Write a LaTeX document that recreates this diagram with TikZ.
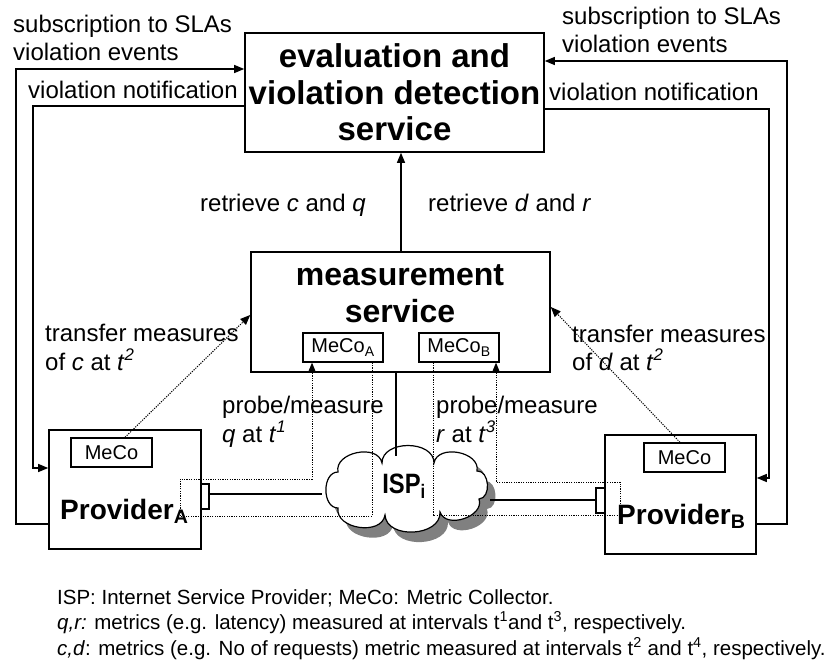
\documentclass[tikz,border=0pt]{standalone}
\usepackage{fontspec}
\setmainfont{Liberation Sans}
\usetikzlibrary{arrows.meta}
\definecolor{shadegray}{RGB}{128,128,128}

% outline of the internet service provider cloud, one puff per segment
\newcommand\ispoutline{%
  (338,508) to[puff] (338,472) to[puff] (382,463) to[puff] (434,463)
  to[puff] (477,471) to[puff] (479,499) to[puff] (440,512)
  to[puff] (385,515) to[puff] (338,508) -- cycle}

\begin{document}
\begin{tikzpicture}[x=1pt,y=-1pt,
  box/.style={draw,line width=1.6pt,inner sep=0pt},
  smallbox/.style={draw,line width=1.3pt,inner sep=0pt,minimum height=29pt,minimum width=80pt,
    font=\fontsize{20}{22}\selectfont},
  port/.style={draw,line width=1.3pt,inner sep=0pt,minimum width=8pt,minimum height=25pt},
  link/.style={line width=1.3pt},
  tip/.style={-{Triangle[length=10pt,width=8pt]}},
  probe/.style={line width=1pt,dash pattern=on 1.2pt off 1.2pt},
  lbl/.style={anchor=base west,inner sep=0pt,font=\fontsize{24}{28}\selectfont},
  bigbold/.style={font=\fontsize{33}{36.5}\selectfont\bfseries,align=center},
  puff/.style={bend left=90,looseness=1.15},
  note/.style={anchor=base west,inner sep=0pt,font=\fontsize{20.5}{25}\selectfont}
]
\useasboundingbox (0,0) rectangle (830,663);

% ---- main service boxes
\node[box,minimum width=299pt,minimum height=119pt,bigbold] (eval) at (394.5,92.5)
  {evaluation and\\violation detection\\service};
\node[box,minimum width=299pt,minimum height=120pt] (meas) at (400.5,312) {};
\node[bigbold,font=\fontsize{32}{37}\selectfont\bfseries,anchor=base,inner sep=0pt] (meastxt) at (400,285)
  {measurement};
\node[bigbold,font=\fontsize{32}{37}\selectfont\bfseries,anchor=base,inner sep=0pt] (meastxt2) at (400,322)
  {service};
\node[smallbox] (mecoA) at (343,347.5) {MeCo\textsubscript{A}};
\node[smallbox] (mecoB) at (459,347.5) {MeCo\textsubscript{B}};

% ---- providers
\node[box,minimum width=152pt,minimum height=119pt] (provA) at (125,489.5) {};
\node[box,minimum width=151pt,minimum height=119pt] (provB) at (680.5,494.5) {};
\node[smallbox,minimum width=81pt] (mecoPA) at (111.5,452.5) {MeCo};
\node[smallbox,minimum width=81pt] (mecoPB) at (684.5,457.5) {MeCo};
\node[anchor=base west,inner sep=0pt,font=\fontsize{28}{30}\selectfont\bfseries] (provAtxt) at (60,519)
  {Provider\textsubscript{A}};
\node[anchor=base west,inner sep=0pt,font=\fontsize{28}{30}\selectfont\bfseries] (provBtxt) at (617,524)
  {Provider\textsubscript{B}};
\node[port] (portA) at (205,496.5) {};
\node[port,minimum width=9pt] (portB) at (600.5,500.5) {};

% ---- internet service provider cloud with its shadow
\fill[shadegray,shift={(8,10)}] \ispoutline;
\filldraw[fill=white,draw=black,line width=1.2pt] \ispoutline;
\node[anchor=base,inner sep=0pt,font=\fontsize{28}{30}\selectfont\bfseries] (isptxt) at (404,493)
  {\scalebox{0.85}[1]{ISP\textsubscript{i}}};

% ---- connectors between services
\coordinate (ispTop) at (396,456);
\draw[link] (meas.south -| ispTop) -- (ispTop);
\draw[link,tip] (meas.north -| 401,0) -- (eval.south -| 401,0);
\coordinate (pA) at (322,494);
\coordinate (pB) at (490,500);
\draw[link] (portA.east |- pA) -- (pA);
\draw[link] (pB) -- (portB.west |- pB);

% ---- subscriptions and notifications
\coordinate (lo) at (16,69);
\coordinate (li) at (33,106);
\coordinate (ro) at (787,61);
\coordinate (ri) at (769,109);
\draw[link,tip] (provA.west |- 0,524) -| (lo) -- (eval.west |- lo);
\draw[link,tip] (eval.west |- li) -| (li |- 0,468) -- (provA.west |- 0,468);
\draw[link,tip] (provB.east |- 0,524) -| (ro) -- (eval.east |- ro);
\draw[link,tip] (eval.east |- ri) -| (ri |- 0,478) -- (provB.east |- 0,478);

% ---- transfer of measures
\draw[probe,tip] (mecoPA.north -| 125,0) -- (meas.west |- 0,315);
\draw[probe,tip] (mecoPB.north -| 680,0) -- (meas.east |- 0,307);

% ---- probing through the ISP
\coordinate (qa) at (180,479);
\coordinate (qb) at (180,516);
\draw[probe,tip] (mecoA.south -| 372,0) |- (qb) -- (qa) -| (mecoA.south -| 312,0);
\coordinate (ra) at (620,515);
\coordinate (rb) at (620,482);
\draw[probe,tip] (mecoB.south -| 433,0) |- (ra) -- (rb) -| (mecoB.south -| 496,0);

% ---- labels
\node[lbl] (l1) at (13,33) {subscription to SLAs};
\node[lbl] (l2) at (13,61) {violation events};
\node[lbl] (l3) at (562,25) {subscription to SLAs};
\node[lbl] (l4) at (562,53) {violation events};
\node[lbl] (l5) at (28,99) {violation notification};
\node[lbl] (l6) at (549,101) {violation notification};
\node[lbl] (l7) at (200,212) {retrieve \textit{c} and \textit{q}};
\node[lbl] (l8) at (428,212) {retrieve \textit{d} and \textit{r}};
\node[lbl] (l9) at (45,341) {transfer measures};
\node[lbl] (l10) at (45,370) {of \textit{c} at \textit{t}\textsuperscript{\textit{2}}};
\node[lbl] (l11) at (572,342) {transfer measures};
\node[lbl] (l12) at (572,370) {of \textit{d} at \textit{t}\textsuperscript{\textit{2}}};
\node[lbl] (l13) at (222,413) {probe/measure};
\node[lbl] (l14) at (222,442) {\textit{q} at \textit{t}\textsuperscript{\textit{1}}};
\node[lbl] (l15) at (436,413) {probe/measure};
\node[lbl] (l16) at (436,442) {\textit{r} at \textit{t}\textsuperscript{\textit{3}}};

% ---- legend
\node[note] (n1) at (57,604) {ISP: Internet Service Provider; MeCo: Metric Collector.};
\node[note] (n2) at (57,629) {\textit{q,r:} metrics (e.g. latency) measured at intervals t\textsuperscript{1}and t\textsuperscript{3}, respectively.};
\node[note] (n3) at (57,655) {\textit{c,d}: metrics (e.g. No of requests) metric measured at intervals t\textsuperscript{2} and t\textsuperscript{4}, respectively.};
\end{tikzpicture}
\end{document}
